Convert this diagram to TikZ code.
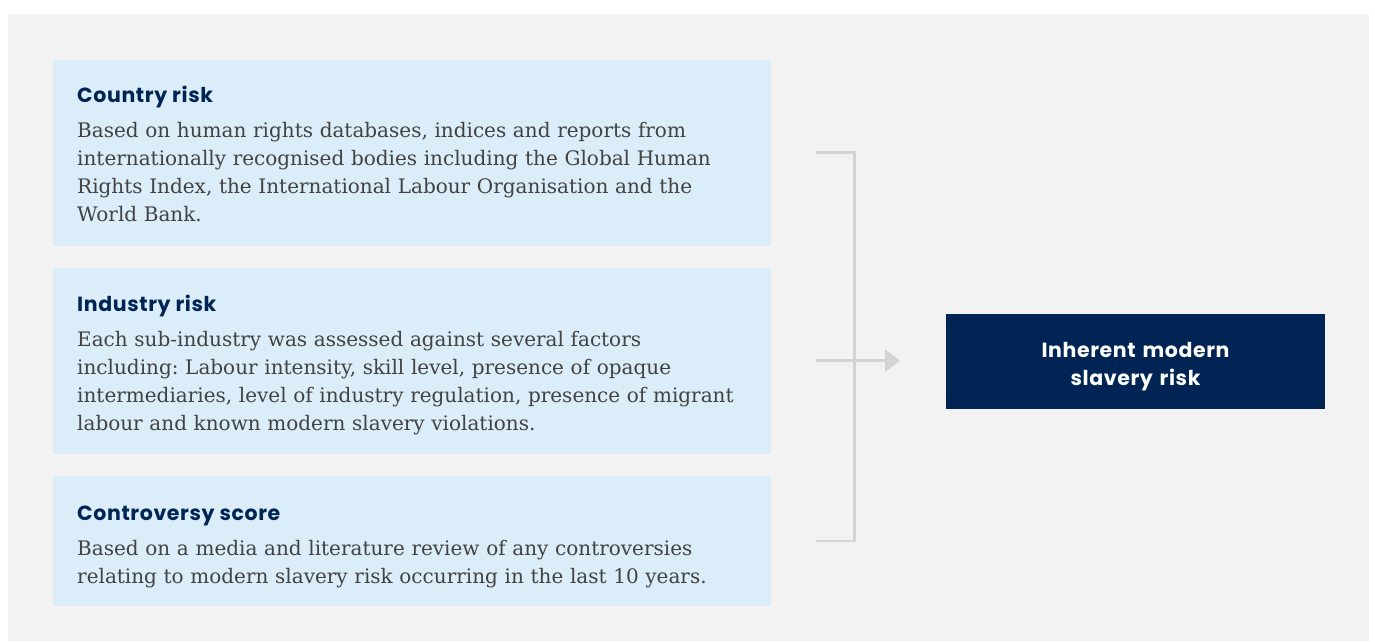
\documentclass[tikz,border=0pt]{standalone}
\usepackage{fontspec}
\setmainfont{DejaVu Serif}
\newfontfamily\headfont[LetterSpace=3]{Poppins}
\usetikzlibrary{arrows.meta}
\definecolor{pagebg}{HTML}{FFFFFF}
\definecolor{panelbg}{HTML}{F2F2F2}
\definecolor{cardbg}{HTML}{DAEDF8}
\definecolor{navy}{HTML}{002554}
\definecolor{bodygray}{HTML}{424242}
\definecolor{linkgray}{HTML}{D3D3D3}
\begin{document}
\frenchspacing
\begin{tikzpicture}[x=1pt,y=-1pt,
  card/.style={fill=cardbg,draw=none},
  headtxt/.style={anchor=base west,inner sep=0pt,text=navy,font=\headfont\bfseries\fontsize{20.5}{24}\selectfont},
  bodytxt/.style={anchor=base west,inner sep=0pt,text=bodygray,text width=700pt,align=left,
    font=\fontsize{20}{28}\selectfont},
  link/.style={draw=linkgray,line width=2.7pt},
  resultbox/.style={fill=navy,draw=none},
  resulttxt/.style={anchor=base,inner sep=0pt,text=white,text width=370pt,align=center,
    font=\headfont\bfseries\fontsize{20.5}{27.7}\selectfont}]
% page and panel
\useasboundingbox (0,0) rectangle (1375,641);
\fill[pagebg] (0,0) rectangle (1375,641);
\fill[panelbg] (8,14) rectangle (1369,641);
% input cards
\path[card] (53,60) rectangle (771,245.5);
\path[card] (53,268) rectangle (771,453.5);
\path[card] (53,476) rectangle (771,605.5);
\node[headtxt] (h1) at (77,102.7) {Country risk};
\node[bodytxt] (b1) at (77,137.3) {Based on human rights databases, indices and reports from\\
internationally recognised bodies including the Global Human\\
Rights Index, the International Labour Organisation and the\\
World Bank.};
\node[headtxt] (h2) at (77,311.7) {Industry risk};
\node[bodytxt] (b2) at (77,346) {Each sub-industry was assessed against several factors\\
including: Labour intensity, skill level, presence of opaque\\
intermediaries, level of industry regulation, presence of migrant\\
labour and known modern slavery violations.};
\node[headtxt] (h3) at (77,520) {Controversy score};
\node[bodytxt] (b3) at (77,555) {Based on a media and literature review of any controversies\\
relating to modern slavery risk occurring in the last 10 years.};
% result box
\path[resultbox] (946,314) rectangle (1325,408.5);
\node[resulttxt] (res) at (1135.5,357.3) {Inherent modern\\slavery risk};
% bracket joining the three inputs
\coordinate (topend) at (816,152.7);
\coordinate (topcorner) at (854.5,152.7);
\coordinate (botcorner) at (854.5,541);
\coordinate (botend) at (816,541);
\coordinate (midstart) at (816,360.7);
\coordinate (midtip) at (900,360.7);
\draw[link,line cap=butt] (topend) -- (topcorner) -- (botcorner) -- (botend);
\draw[link,-{Triangle[length=15pt,width=22pt]}] (midstart) -- (midtip);
\end{tikzpicture}
\end{document}
